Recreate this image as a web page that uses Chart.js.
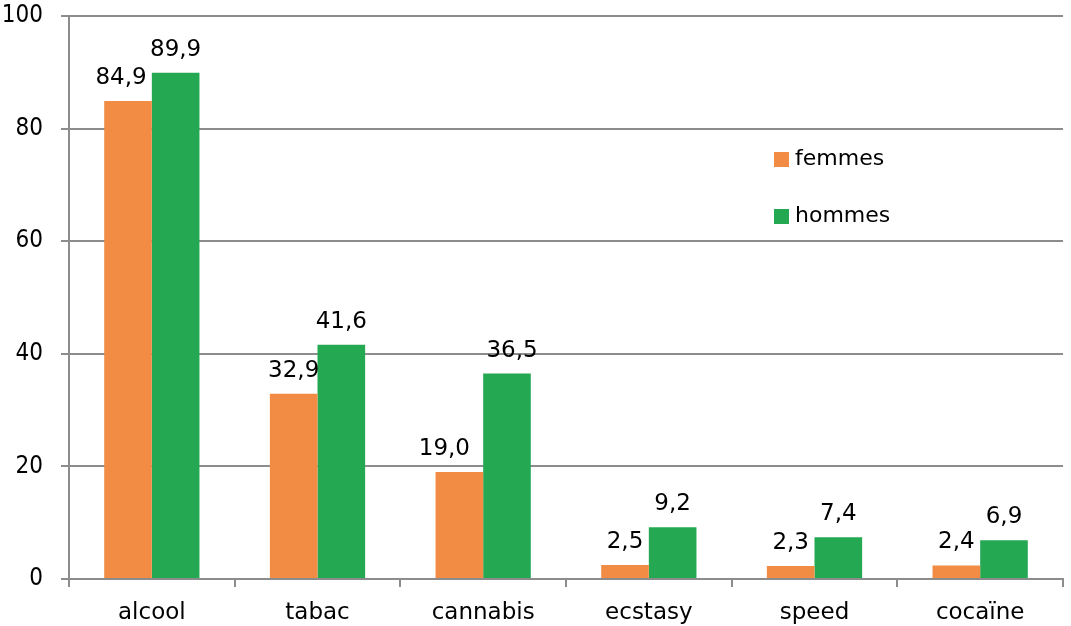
<!DOCTYPE html>
<html>
<head>
<meta charset="utf-8">
<script src="https://cdn.jsdelivr.net/npm/chart.js@4/dist/chart.umd.min.js"></script>
<style>
  html, body { margin: 0; padding: 0; background: #fff; }
  #wrap { width: 1071px; height: 626px; position: relative; }
</style>
</head>
<body>
<div id="wrap"><canvas id="chart"></canvas></div>
<script>
// substances and percentages
const categories = ['alcool', 'tabac', 'cannabis', 'ecstasy', 'speed', 'cocaïne'];
const femmes = [84.9, 32.9, 19.0, 2.5, 2.3, 2.4];
const hommes = [89.9, 41.6, 36.5, 9.2, 7.4, 6.9];
const yTicks = [0, 20, 40, 60, 80, 100];

const NUM_FONT = 'DejaVu Sans Condensed';
const TXT_FONT = 'DejaVu Sans';
const GRID = '#8c8c8c';

// value labels above each bar, french decimal comma
// a few labels were nudged sideways in the original (dataset index -> category index -> px)
const labelNudge = { 0: { 0: -7, 2: -15 }, 1: { 2: 5 } };

const valueLabels = {
  id: 'valueLabels',
  afterDatasetsDraw(chart) {
    const {ctx} = chart;
    ctx.save();
    ctx.font = '23px "' + TXT_FONT + '"';
    ctx.fillStyle = '#000';
    ctx.textAlign = 'center';
    ctx.textBaseline = 'alphabetic';
    chart.data.datasets.forEach((ds, i) => {
      chart.getDatasetMeta(i).data.forEach((bar, j) => {
        const txt = ds.data[j].toFixed(1).replace('.', ',');
        const dx = (labelNudge[i] && labelNudge[i][j]) || 0;
        ctx.fillText(txt, bar.x + dx, bar.y - 17);
      });
    });
    ctx.restore();
  }
};

// legend sitting inside the plot area
const innerLegend = {
  id: 'innerLegend',
  afterDraw(chart) {
    const {ctx} = chart;
    ctx.save();
    ctx.font = '22px "' + TXT_FONT + '"';
    ctx.textBaseline = 'middle';
    chart.data.datasets.forEach((ds, i) => {
      const y = 159 + i * 57;
      ctx.fillStyle = ds.backgroundColor;
      ctx.fillRect(774, y - 7, 15, 15);
      ctx.fillStyle = '#000';
      ctx.fillText(ds.label, 795, y);
    });
    ctx.restore();
  }
};

new Chart(document.getElementById('chart'), {
  type: 'bar',
  data: {
    labels: categories,
    datasets: [
      { label: 'femmes', data: femmes, backgroundColor: '#f28c45' },
      { label: 'hommes', data: hommes, backgroundColor: '#24a852' }
    ]
  },
  plugins: [valueLabels, innerLegend],
  options: {
    responsive: true,
    maintainAspectRatio: false,
    animation: false,
    layout: { padding: { top: 16, right: 8, left: 0, bottom: 0 } },
    datasets: { bar: { categoryPercentage: 0.575, barPercentage: 1.0 } },
    scales: {
      x: {
        grid: { display: true, offset: true, drawOnChartArea: false, color: GRID, lineWidth: 2, tickLength: 8 },
        border: { color: GRID, width: 2 },
        ticks: { color: '#000', font: { family: TXT_FONT, size: 23 }, padding: 12 },
        afterFit: (scale) => { scale.height = 47; scale.paddingLeft = 0; scale.paddingRight = 0; }
      },
      y: {
        min: 0,
        max: 100,
        afterBuildTicks: (scale) => { scale.ticks = yTicks.map(v => ({ value: v })); },
        grid: { color: GRID, lineWidth: 2, tickLength: 8 },
        border: { color: GRID, width: 2 },
        ticks: { color: '#000', font: { family: NUM_FONT, size: 24 }, padding: 18 },
        afterFit: (scale) => { scale.width = 69; scale.paddingTop = 0; scale.paddingBottom = 0; }
      }
    },
    plugins: {
      legend: { display: false },
      tooltip: { enabled: false }
    }
  }
});
</script>
</body>
</html>
